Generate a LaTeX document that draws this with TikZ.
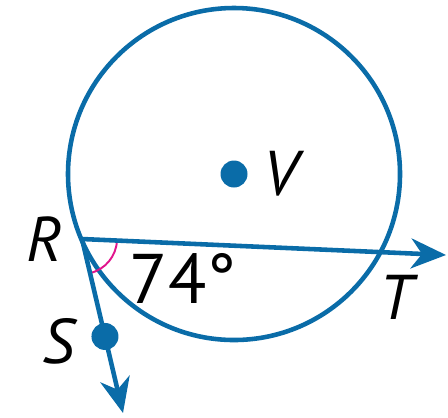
\documentclass[tikz,border=0pt]{standalone}
\usepackage{fontspec}
\setmainfont{PT Sans}
\usepackage{tikz}
\usetikzlibrary{arrows.meta, calc}
\definecolor{cLine}{RGB}{10,108,168}
\definecolor{cAngle}{RGB}{225,20,140}
\tikzset{
    geoline/.style={draw=cLine, line width=2.6pt},
    ray/.style    ={geoline, -{Stealth[length=0.7cm, width=0.6cm, inset=0.22cm]}},
    dot/.style    ={circle, fill=cLine, inner sep=0pt, minimum size=0.54cm},
    ptlabel/.style={font=\fontsize{36}{40}\selectfont\itshape, inner sep=0pt},
}
\begin{document}
\begin{tikzpicture}[x=0.02cm, y=-0.02cm]
    \useasboundingbox (0,0) rectangle (448,417);
    \coordinate (R) at (82,239);
    \coordinate (Ttip) at (446,255);
    \coordinate (Stip) at (123,413);
    % circle and its center
    \draw[geoline] (234,174) circle[radius=166];
    \node[dot] (V) at (234,174) {};
    % angle mark
    \draw[cAngle, line width=1.1pt] ($(R)!0.7cm!(Ttip)$) arc[start angle=2.5, end angle=76.7, radius=35];
    % secant and ray from R
    \draw[ray] (R) -- (Ttip);
    \draw[ray] (R) -- (Stip);
    \node[dot] (S) at ($(R)!0.56!(Stip)$) {};
    % labels
    \node[ptlabel] (Rlabel) at (44,239) {R};
    \node[ptlabel] (Slabel) at (58,341) {S};
    \node[ptlabel] (Tlabel) at (396,297) {T};
    \node[ptlabel] (Vlabel) at (281,174) {V};
    \node[ptlabel, font=\fontsize{40}{44}\selectfont] (angle) at (183,278) {74°};
\end{tikzpicture}
\end{document}
